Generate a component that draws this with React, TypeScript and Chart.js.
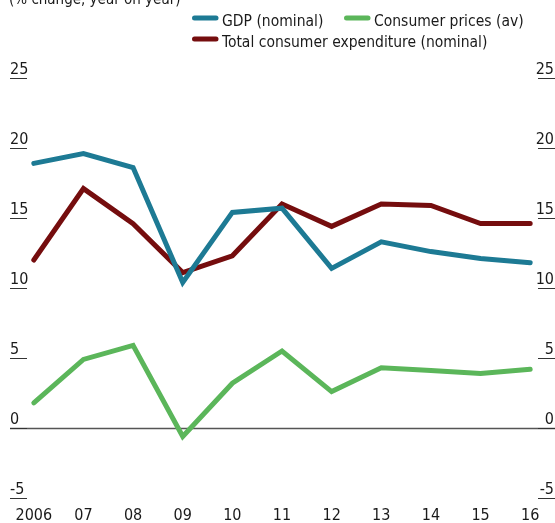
import React, { useEffect, useRef } from "react";
import { Chart, registerables } from "chart.js";

Chart.register(...registerables);

const years = ["2006", "07", "08", "09", "10", "11", "12", "13", "14", "15", "16"];
const gdpNominal = [18.9, 19.6, 18.6, 10.4, 15.4, 15.7, 11.4, 13.3, 12.6, 12.1, 11.8];
const consumerPrices = [1.8, 4.9, 5.9, -0.6, 3.2, 5.5, 2.6, 4.3, 4.1, 3.9, 4.2];
const consumerExpenditure = [12.0, 17.1, 14.6, 11.1, 12.3, 16.0, 14.4, 16.0, 15.9, 14.6, 14.6];
const yTicks = [-5, 0, 5, 10, 15, 20, 25];
const seriesLabels = ["GDP (nominal)", "Consumer prices (av)", "Total consumer expenditure (nominal)"];
const titleText = "(% change, year on year)";

const FONT = "'Liberation Sans Narrow', 'Arial Narrow', 'DejaVu Sans Condensed', sans-serif";
const TEAL = "#1d7a94";
const GREEN = "#5bb65a";
const RED = "#750d0e";

// legend placement (style, not data): [x, y] of swatch start for each dataset
const legendSpots: [number, number][] = [
  [192, 18],
  [344, 18],
  [192, 39],
];

const decorPlugin = {
  id: "decor",
  beforeDatasetsDraw(chart: any) {
    const ctx = chart.ctx;
    const y = chart.scales.y;
    ctx.save();
    // zero line
    const y0 = Math.round(y.getPixelForValue(0)) + 0.5;
    ctx.strokeStyle = "#555555";
    ctx.lineWidth = 1.3;
    ctx.beginPath();
    ctx.moveTo(10, y0);
    ctx.lineTo(555, y0);
    ctx.stroke();
    // tick marks and labels
    ctx.font = `16px ${FONT}`;
    ctx.fillStyle = "#1a1a1a";
    ctx.textBaseline = "alphabetic";
    ctx.strokeStyle = "#333333";
    ctx.lineWidth = 1;
    for (const t of yTicks) {
      const py = Math.round(y.getPixelForValue(t)) + 0.5;
      ctx.beginPath();
      ctx.moveTo(10, py);
      ctx.lineTo(27, py);
      ctx.moveTo(538, py);
      ctx.lineTo(555, py);
      ctx.stroke();
      const lab = t < 0 ? "-" + Math.abs(t) : String(t);
      ctx.textAlign = "left";
      ctx.fillText(lab, 10, py - 5);
      ctx.textAlign = "right";
      ctx.fillText(lab, 554, py - 5);
    }
    // title
    ctx.textAlign = "left";
    ctx.font = `15px ${FONT}`;
    ctx.fillText(titleText, 9, 4);
    // legend
    ctx.font = `15.5px ${FONT}`;
    chart.data.datasets.forEach((ds: any, i: number) => {
      const [lx, ly] = legendSpots[i];
      ctx.strokeStyle = ds.borderColor;
      ctx.lineWidth = 5;
      ctx.lineCap = "round";
      ctx.beginPath();
      ctx.moveTo(lx + 2.5, ly);
      ctx.lineTo(lx + 24, ly);
      ctx.stroke();
      ctx.fillStyle = "#1a1a1a";
      ctx.textAlign = "left";
      ctx.fillText(ds.label, lx + 30, ly + 8);
    });
    ctx.restore();
  },
};

export default function App() {
  const ref = useRef<HTMLCanvasElement | null>(null);
  useEffect(() => {
    if (!ref.current) return;
    const chart = new Chart(ref.current, {
      type: "line",
      data: {
        labels: years,
        datasets: [
          { label: seriesLabels[0], data: gdpNominal, borderColor: TEAL },
          { label: seriesLabels[1], data: consumerPrices, borderColor: GREEN },
          { label: seriesLabels[2], data: consumerExpenditure, borderColor: RED },
        ].map((d) => ({
          ...d,
          borderWidth: 5,
          pointRadius: 0,
          tension: 0,
          fill: false,
          borderCapStyle: "round" as const,
          borderJoinStyle: "miter" as const,
        })),
      },
      options: {
        responsive: false,
        animation: false,
        devicePixelRatio: 1,
        layout: { padding: { top: 78, left: 9, right: 0, bottom: 0 } },
        plugins: { legend: { display: false }, tooltip: { enabled: false }, title: { display: false } },
        scales: {
          x: {
            type: "category",
            offset: true,
            grid: { display: false, drawTicks: false },
            border: { display: false },
            afterFit: (scale: any) => {
              scale.height = 25;
            },
            ticks: {
              color: "#1a1a1a",
              font: { family: FONT, size: 16, lineHeight: 1 },
              padding: 10,
              maxRotation: 0,
              autoSkip: false,
            },
          },
          y: {
            display: false,
            min: -5,
            max: 25,
          },
        },
      },
      plugins: [decorPlugin],
    });
    return () => chart.destroy();
  }, []);
  return (
    <div style={{ position: "absolute", left: 0, top: 0, width: 555, height: 523, background: "#fff" }}>
      <canvas ref={ref} width={555} height={523} />
    </div>
  );
}
